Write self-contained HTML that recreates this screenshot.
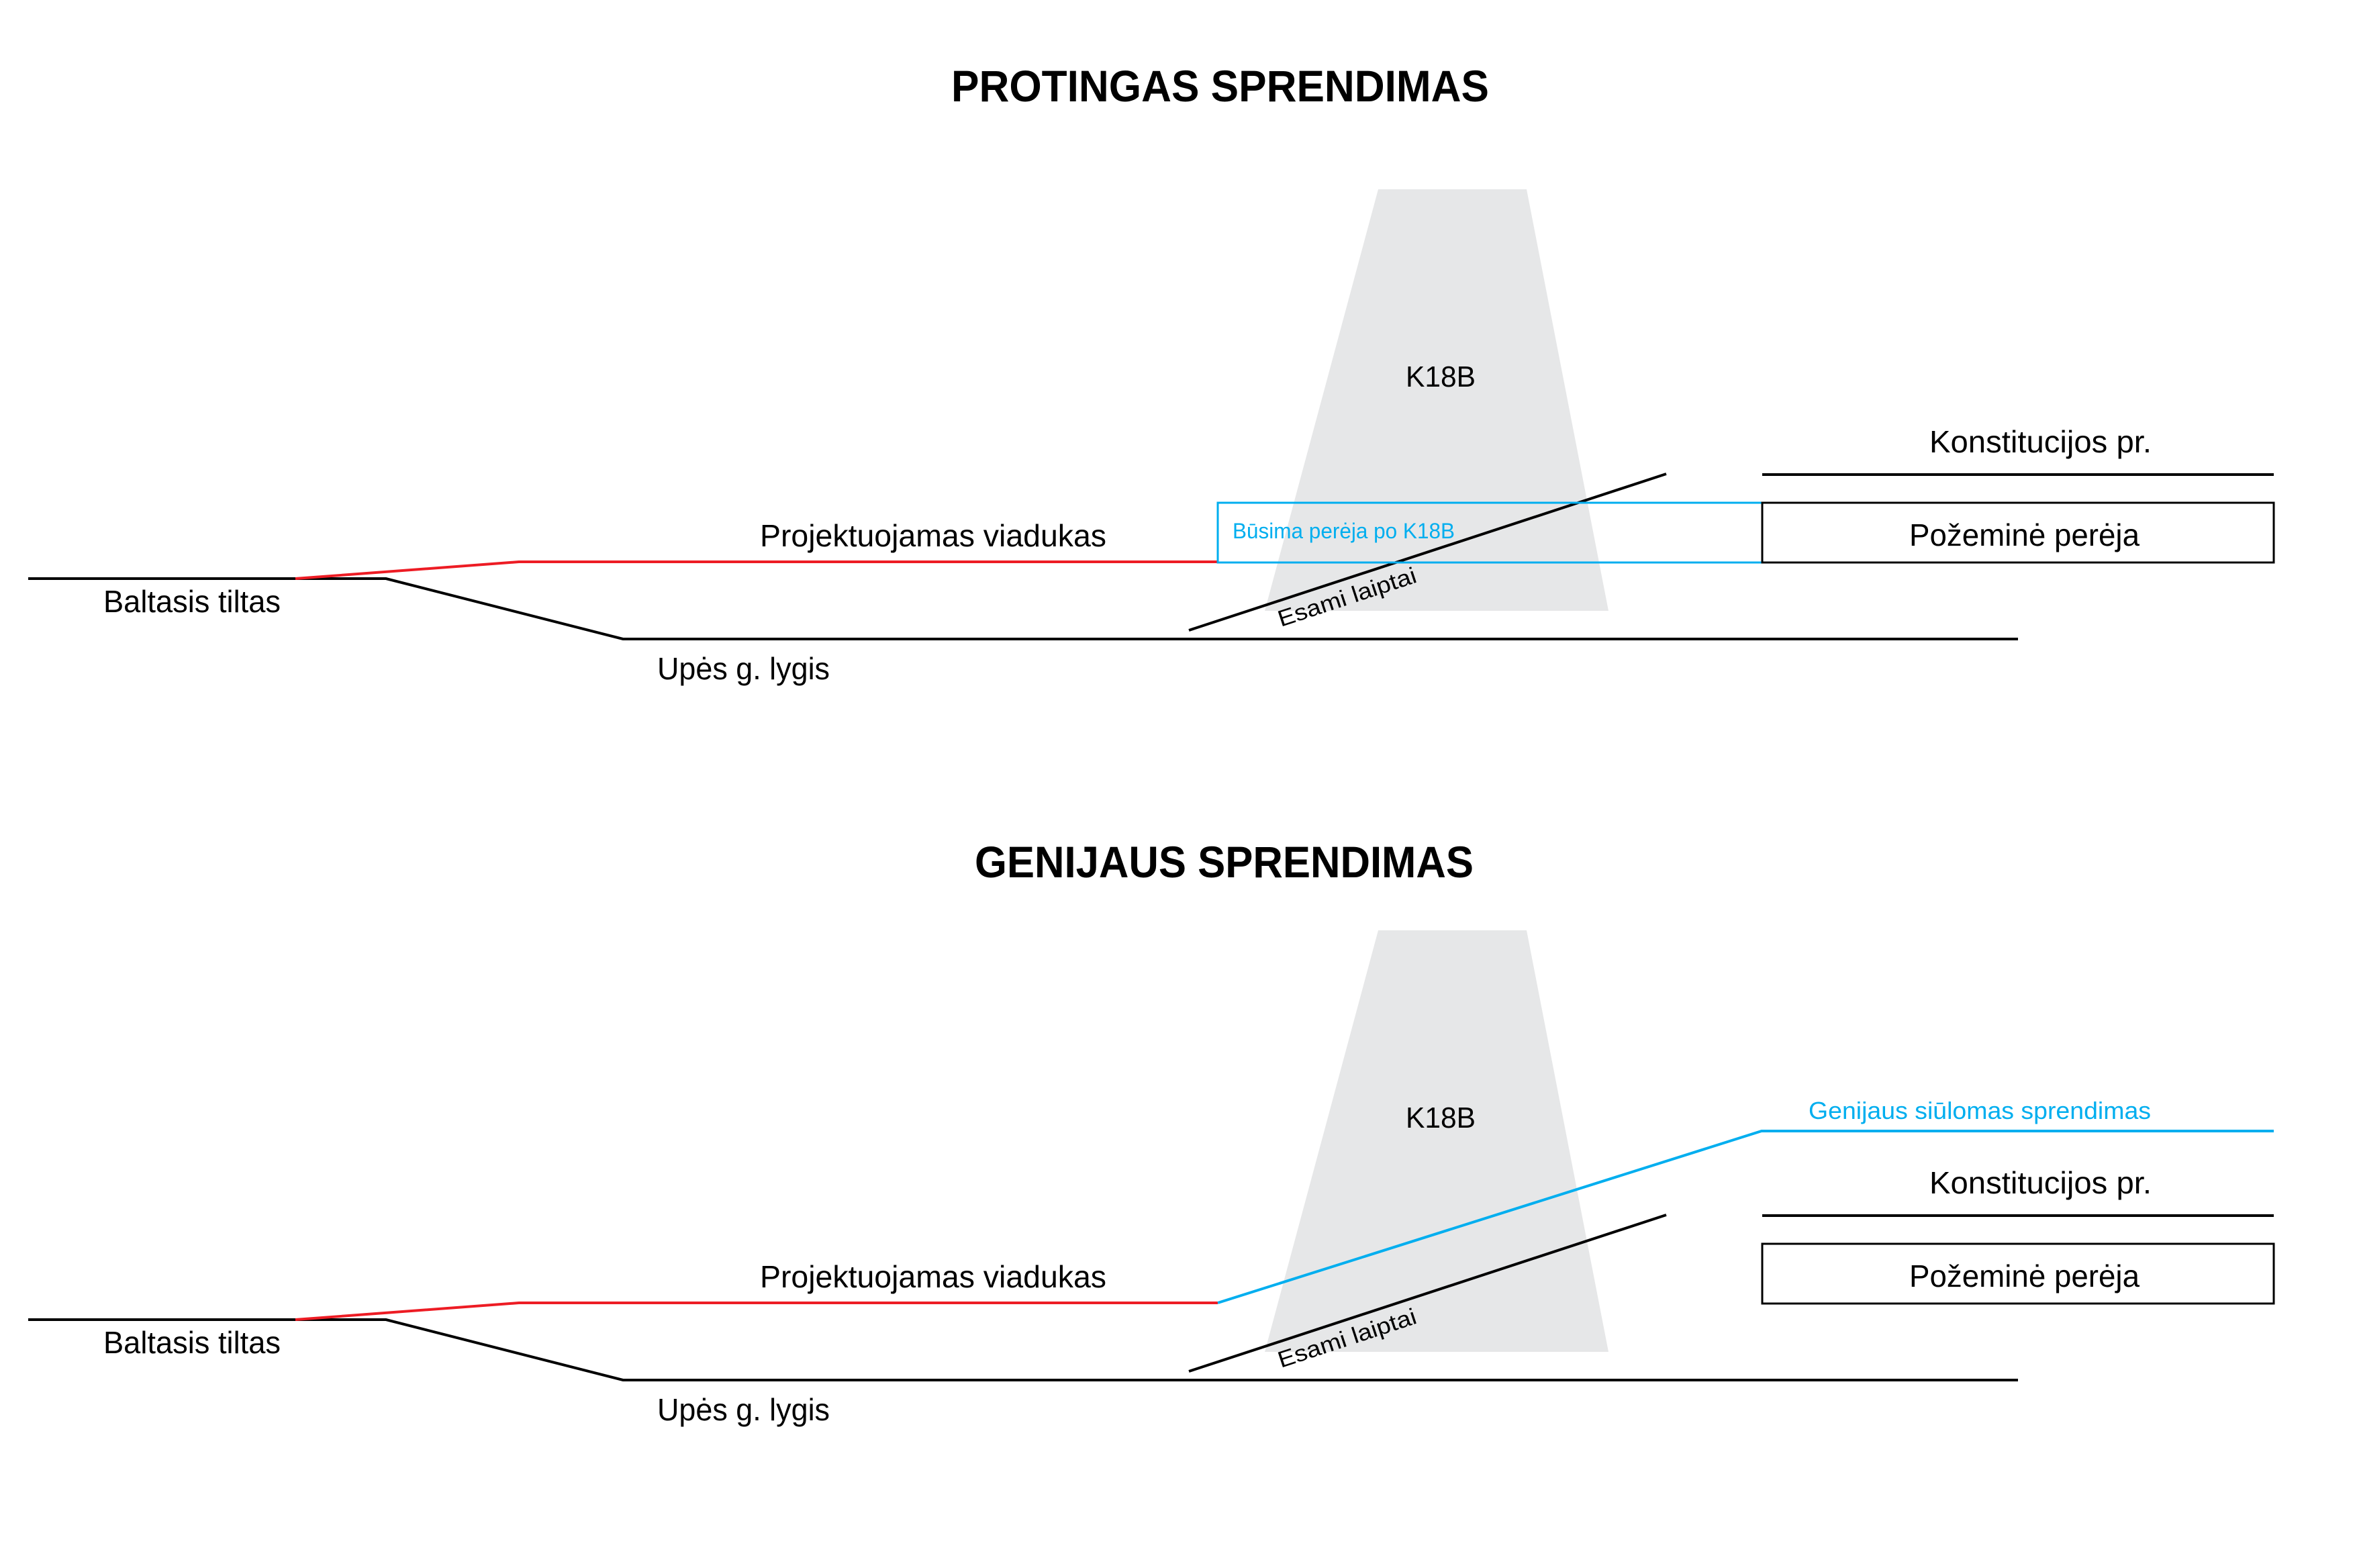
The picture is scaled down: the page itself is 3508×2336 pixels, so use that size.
<!DOCTYPE html>
<html><head><meta charset="utf-8"><style>html,body{margin:0;padding:0;background:#fff}svg{display:block}</style></head>
<body>
<svg width="3508" height="2336" viewBox="0 0 3508 2336" xmlns="http://www.w3.org/2000/svg" font-family="'Liberation Sans', sans-serif">
<rect width="3508" height="2336" fill="#fff"/>
<text x="1417" y="151" font-size="66" font-weight="bold" textLength="801" lengthAdjust="spacingAndGlyphs">PROTINGAS SPRENDIMAS</text>

<g id="top">
<polygon points="2053,282 2274,282 2396,910 1884,910" fill="#e6e7e8"/>
<text x="2094" y="576" font-size="44" textLength="104" lengthAdjust="spacingAndGlyphs">K18B</text>
<polyline points="42,862 575,862 928,952 3006,952" fill="none" stroke="#000" stroke-width="4"/>
<polyline points="440,862 773,837 1814,837" fill="none" stroke="#ed1c24" stroke-width="4"/>
<line x1="1771" y1="939" x2="2482" y2="706" stroke="#000" stroke-width="4"/>
<rect x="1814" y="749" width="811" height="89" fill="none" stroke="#00aeef" stroke-width="3"/>
<rect x="2625" y="749" width="762" height="89" fill="none" stroke="#000" stroke-width="3"/>
<line x1="2625" y1="707" x2="3387" y2="707" stroke="#000" stroke-width="4"/>
<text x="154" y="912" font-size="46" textLength="264" lengthAdjust="spacingAndGlyphs">Baltasis tiltas</text>
<text x="979" y="1012" font-size="46" textLength="257" lengthAdjust="spacingAndGlyphs">Upės g. lygis</text>
<text x="1132" y="814" font-size="46" textLength="516" lengthAdjust="spacingAndGlyphs">Projektuojamas viadukas</text>
<text x="1836" y="802" font-size="32" fill="#00aeef" textLength="331" lengthAdjust="spacingAndGlyphs">Būsima perėja po K18B</text>
<text x="2844" y="813" font-size="46" textLength="343" lengthAdjust="spacingAndGlyphs">Požeminė perėja</text>
<text x="2874" y="674" font-size="46" textLength="331" lengthAdjust="spacingAndGlyphs">Konstitucijos pr.</text>
<text transform="translate(1908,934) rotate(-18.2)" font-size="34" textLength="215" lengthAdjust="spacingAndGlyphs">Esami laiptai</text>
</g>

<text x="1452" y="1307" font-size="66" font-weight="bold" textLength="743" lengthAdjust="spacingAndGlyphs">GENIJAUS SPRENDIMAS</text>

<g transform="translate(0,1104)">
<polygon points="2053,282 2274,282 2396,910 1884,910" fill="#e6e7e8"/>
<text x="2094" y="576" font-size="44" textLength="104" lengthAdjust="spacingAndGlyphs">K18B</text>
<polyline points="42,862 575,862 928,952 3006,952" fill="none" stroke="#000" stroke-width="4"/>
<polyline points="440,862 773,837 1814,837" fill="none" stroke="#ed1c24" stroke-width="4"/>
<polyline points="1814,837 2624,581 3387,581" fill="none" stroke="#00aeef" stroke-width="4"/>
<line x1="1771" y1="939" x2="2482" y2="706" stroke="#000" stroke-width="4"/>
<rect x="2625" y="749" width="762" height="89" fill="none" stroke="#000" stroke-width="3"/>
<line x1="2625" y1="707" x2="3387" y2="707" stroke="#000" stroke-width="4"/>
<text x="154" y="912" font-size="46" textLength="264" lengthAdjust="spacingAndGlyphs">Baltasis tiltas</text>
<text x="979" y="1012" font-size="46" textLength="257" lengthAdjust="spacingAndGlyphs">Upės g. lygis</text>
<text x="1132" y="814" font-size="46" textLength="516" lengthAdjust="spacingAndGlyphs">Projektuojamas viadukas</text>
<text x="2694" y="563" font-size="36" fill="#00aeef" textLength="510" lengthAdjust="spacingAndGlyphs">Genijaus siūlomas sprendimas</text>
<text x="2844" y="813" font-size="46" textLength="343" lengthAdjust="spacingAndGlyphs">Požeminė perėja</text>
<text x="2874" y="674" font-size="46" textLength="331" lengthAdjust="spacingAndGlyphs">Konstitucijos pr.</text>
<text transform="translate(1908,934) rotate(-18.2)" font-size="34" textLength="215" lengthAdjust="spacingAndGlyphs">Esami laiptai</text>
</g>
</svg>
</body></html>
